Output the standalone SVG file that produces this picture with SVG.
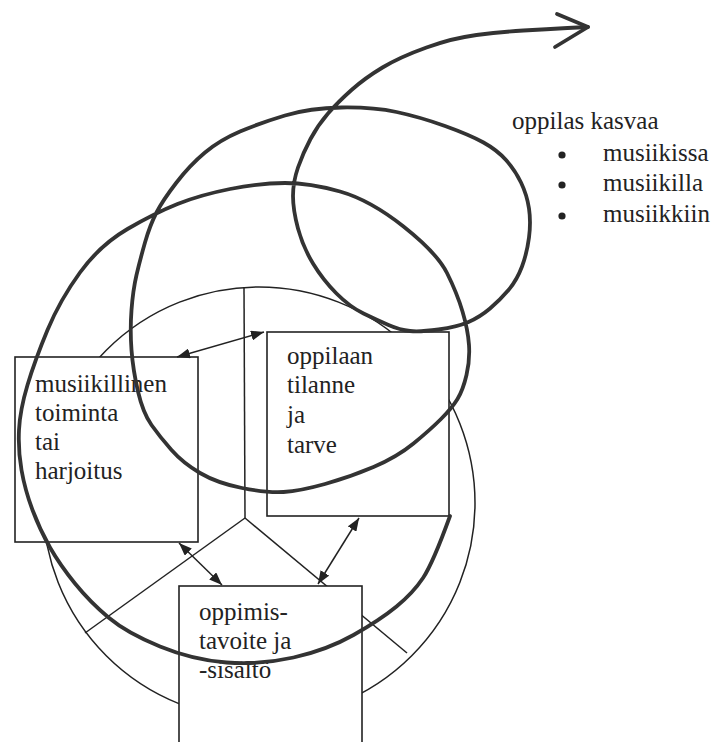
<svg xmlns="http://www.w3.org/2000/svg" width="713" height="742" viewBox="0 0 713 742">
<style>
.thin{fill:none;stroke:#222;stroke-width:1.5}
.box{fill:#fff;stroke:#222;stroke-width:1.6}
.lbl{font-size:25px;fill:#222}
.spiral{fill:none;stroke:#333;stroke-width:3.8;stroke-linecap:round;stroke-linejoin:round}
.conn{fill:none;stroke:#222;stroke-width:1.5}
</style>
<defs>
<marker id="ah" markerUnits="userSpaceOnUse" markerWidth="14" markerHeight="10" refX="13" refY="5" orient="auto-start-reverse">
<path d="M0,0 L13,5 L0,10 Z" fill="#222"/>
</marker>
</defs>
<rect width="713" height="742" fill="#fff"/>
<g id="wheel">
<circle class="thin" cx="259" cy="503" r="216"/>
<line class="thin" x1="244" y1="287" x2="245" y2="518"/>
<line class="thin" x1="245" y1="518" x2="85" y2="633"/>
<line class="thin" x1="245" y1="518" x2="407" y2="653"/>
</g>
<g font-family="'Liberation Serif', 'DejaVu Serif', 'Times New Roman', serif">
<g id="box-left">
<rect class="box" x="15" y="357" width="183" height="185"/>
<text class="lbl" x="35" y="392">musiikillinen</text>
<text class="lbl" x="35" y="421">toiminta</text>
<text class="lbl" x="35" y="450">tai</text>
<text class="lbl" x="35" y="479">harjoitus</text>
</g>
<g id="box-right">
<rect class="box" x="267" y="332" width="182" height="184"/>
<text class="lbl" x="287" y="364">oppilaan</text>
<text class="lbl" x="287" y="393">tilanne</text>
<text class="lbl" x="287" y="423">ja</text>
<text class="lbl" x="287" y="453">tarve</text>
</g>
<g id="box-bottom">
<rect class="box" x="179" y="586" width="183" height="180"/>
<text class="lbl" x="199" y="620">oppimis-</text>
<text class="lbl" x="199" y="649">tavoite ja</text>
<text class="lbl" x="199" y="678">-sisältö</text>
</g>
<g id="connectors">
<line class="conn" x1="177" y1="357" x2="264" y2="332" marker-start="url(#ah)" marker-end="url(#ah)"/>
<line class="conn" x1="179" y1="543" x2="222" y2="585" marker-start="url(#ah)" marker-end="url(#ah)"/>
<line class="conn" x1="359" y1="518" x2="318" y2="584" marker-start="url(#ah)" marker-end="url(#ah)"/>
</g>
<g id="growth-label">
<text class="lbl" x="512" y="129">oppilas kasvaa</text>
<circle cx="562" cy="155" r="3.6" fill="#222"/>
<circle cx="562" cy="185" r="3.6" fill="#222"/>
<circle cx="562" cy="216" r="3.6" fill="#222"/>
<text class="lbl" x="603" y="161">musiikissa</text>
<text class="lbl" x="603" y="191">musiikilla</text>
<text class="lbl" x="603" y="222">musiikkiin</text>
</g>
</g>
<g id="spiral">
<path class="spiral" d="M450,516 Q433,563 423,578 Q413,593 396.5,606.5 Q380,620 353.5,635 Q327,650 293.5,657.5 Q260,665 226.5,662.5 Q193,660 160,646.5 Q127,633 108.5,617.5 Q90,602 75,583.5 Q60,565 50,547.5 Q40,530 32.5,510 Q25,490 21.5,470 Q18,450 19,430 Q20,410 27.5,385 Q35,360 47.5,330 Q60,300 80,272.5 Q100,245 127.5,229 Q155,213 177.5,204 Q200,195 230,189 Q260,183 285,183 Q310,183 340,191.5 Q370,200 403.5,226.5 Q437,253 447,273 Q457,293 462.5,311.5 Q468,330 469,345 Q470,360 466.5,375 Q463,390 457.5,399 Q452,408 441,419 Q430,430 413.5,443.5 Q397,457 373.5,467 Q350,477 325,484 Q300,491 283.5,492 Q267,493 242,488 Q217,483 200,473 Q183,463 171.5,450 Q160,437 151.5,425 Q143,413 138,391.5 Q133,370 131.5,350 Q130,330 131.5,310 Q133,290 136.5,275 Q140,260 145,242.5 Q150,225 156.5,212.5 Q163,200 176.5,182.5 Q190,165 205,152.5 Q220,140 240,131.5 Q260,123 285,115.5 Q310,108 341.5,107.5 Q373,107 396.5,112 Q420,117 445,126 Q470,135 483.5,142.5 Q497,150 506,160 Q515,170 521,182.5 Q527,195 529,208.5 Q531,222 529,237.5 Q527,253 522,266.5 Q517,280 508.5,290 Q500,300 490,308.5 Q480,317 468.5,322 Q457,327 438.5,329.5 Q420,332 410,331 Q400,330 388.5,325 Q377,320 363.5,313.5 Q350,307 336.5,293.5 Q323,280 313,263.5 Q303,247 298,228.5 Q293,210 293,196 Q293,182 298,167.5 Q303,153 310.5,139 Q318,125 328,113.5 Q338,102 351.5,90 Q365,78 382.5,67.5 Q400,57 426.5,47.5 Q453,38 476.5,35 Q500,32 523.5,30.5 Q547,29 567.5,28 L588,27"/>
<path class="spiral" d="M557,14 L588,27 L555,47"/>
</g>
</svg>
